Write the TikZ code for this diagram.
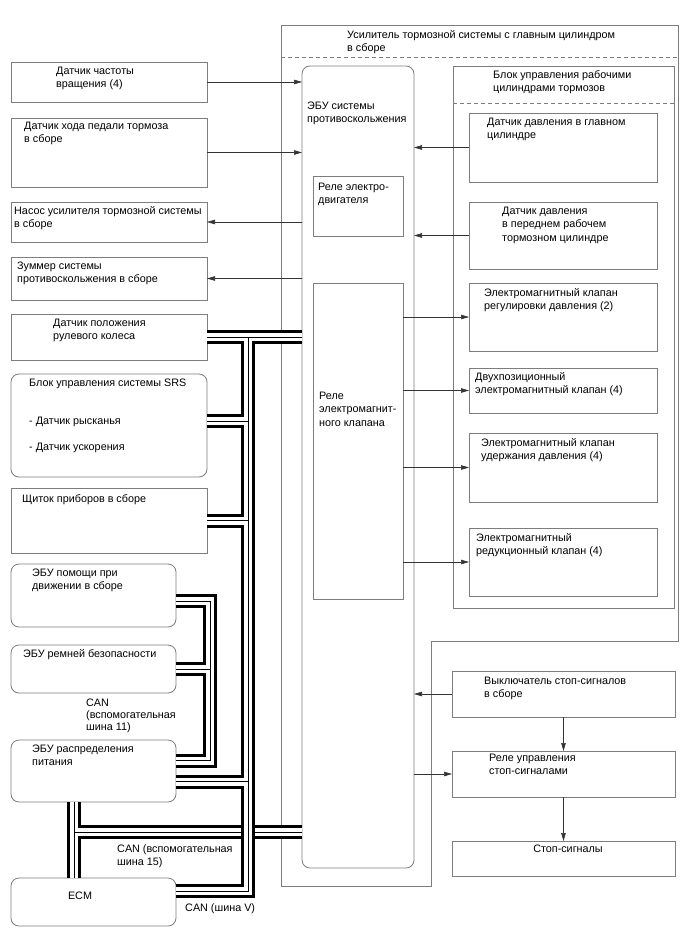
\documentclass[tikz,border=0pt]{standalone}
\usepackage{fontspec}
\setmainfont{Liberation Sans}
\usepackage{tikz}
\usetikzlibrary{arrows.meta}
\definecolor{linegray}{RGB}{125,125,125}

\tikzset{
  box/.style={draw=linegray, line width=0.8pt, rectangle, anchor=north west,
    inner sep=0pt, outer sep=0pt},
  rbox/.style={box, rounded corners=8pt},
  txt/.style={anchor=north west, inner sep=0pt, align=left,
    font=\fontsize{10.8}{13.2}\selectfont},
  arr/.style={draw=black!80, line width=0.6pt, -{Triangle[length=8pt,width=4.5pt]}},
  dashline/.style={draw=linegray, line width=0.8pt, dash pattern=on 4pt off 3pt},
}

\begin{document}
\begin{tikzpicture}[x=1pt,y=-1pt]
  \useasboundingbox (0,0) rectangle (688,949);

  % brake booster with master cylinder
  \draw[linegray, line width=0.8pt] (281,25) -- (678,25) -- (678,641) -- (431,641)
    -- (431,886) -- (281,886) -- cycle;
  \draw[dashline] (281,57) -- (678,57);
  \node[txt] (boostert) at (347,30) {Усилитель тормозной системы с главным цилиндром\\в сборе};

  % skid control ECU
  \node[rbox, minimum width=112, minimum height=802] (ecu) at (302,66) {};
  \node[txt] (ecut) at (307,102) {ЭБУ системы\\противоскольжения};
  \node[box, minimum width=90, minimum height=60] (mrelay) at (313,176) {};
  \node[txt] (mrelayt) at (318,183) {Реле электро-\\двигателя};
  \node[box, minimum width=90, minimum height=316] (vrelay) at (313,283) {};
  \node[txt] (vrelayt) at (319,392) {Реле\\электромагнит-\\ного клапана};

  % actuator block
  \node[box, minimum width=221, minimum height=542] (block) at (453,66) {};
  \draw[dashline] (453,103) -- (674,103);
  \node[txt] (blockt) at (493,70) {Блок управления рабочими\\цилиндрами тормозов};
  \node[box, minimum width=188, minimum height=69] (pmaster) at (469,113) {};
  \node[txt] (pmastert) at (487,118) {Датчик давления в главном\\цилиндре};
  \node[box, minimum width=188, minimum height=67] (pfront) at (469,202) {};
  \node[txt] (pfrontt) at (502,207) {Датчик давления\\в переднем рабочем\\тормозном цилиндре};
  \node[box, minimum width=188, minimum height=68] (vreg) at (469,283) {};
  \node[txt] (vregt) at (484,288) {Электромагнитный клапан\\регулировки давления (2)};
  \node[box, minimum width=188, minimum height=45] (vtwo) at (469,368) {};
  \node[txt] (vtwot) at (475,372) {Двухпозиционный\\электромагнитный клапан (4)};
  \node[box, minimum width=188, minimum height=69] (vhold) at (469,433) {};
  \node[txt] (vholdt) at (481,438) {Электромагнитный клапан\\удержания давления (4)};
  \node[box, minimum width=188, minimum height=68] (vred) at (469,528) {};
  \node[txt] (vredt) at (476,533) {Электромагнитный\\редукционный клапан (4)};

  % stop lamp circuit
  \node[box, minimum width=223, minimum height=46] (switch) at (452,671) {};
  \node[txt] (switcht) at (484,677) {Выключатель стоп-сигналов\\в сборе};
  \node[box, minimum width=223, minimum height=46] (srelay) at (452,751) {};
  \node[txt] (srelayt) at (489,754) {Реле управления\\стоп-сигналами};
  \node[box, minimum width=223, minimum height=35] (lamps) at (452,841) {};
  \node[txt, anchor=north] (lampst) at (568,845) {Стоп-сигналы};

  % left column
  \node[box, minimum width=196, minimum height=40] (speed) at (11,62) {};
  \node[txt] (speedt) at (56,67) {Датчик частоты\\вращения (4)};
  \node[box, minimum width=196, minimum height=69] (pedal) at (11,118) {};
  \node[txt] (pedalt) at (24,122) {Датчик хода педали тормоза\\в сборе};
  \node[box, minimum width=196, minimum height=40] (pump) at (11,202) {};
  \node[txt] (pumpt) at (14,206) {Насос усилителя тормозной системы\\в сборе};
  \node[box, minimum width=196, minimum height=43] (buzzer) at (11,257) {};
  \node[txt] (buzzert) at (17,262) {Зуммер системы\\противоскольжения в сборе};
  \node[box, minimum width=196, minimum height=46] (steer) at (11,314) {};
  \node[txt] (steert) at (53,319) {Датчик положения\\рулевого колеса};
  \node[rbox, minimum width=196, minimum height=103] (srs) at (11,374) {};
  \node[txt] (srst) at (29,379) {Блок управления системы SRS\\[24.5pt] - Датчик рысканья\\[12.5pt] - Датчик ускорения};
  \node[box, minimum width=196, minimum height=65] (cluster) at (11,488) {};
  \node[txt] (clustert) at (22,494) {Щиток приборов в сборе};
  \node[rbox, minimum width=165, minimum height=63] (assist) at (11,564) {};
  \node[txt] (assistt) at (32,569) {ЭБУ помощи при\\движении в сборе};
  \node[rbox, minimum width=165, minimum height=48] (belt) at (11,645) {};
  \node[txt] (beltt) at (23,649) {ЭБУ ремней безопасности};
  \node[rbox, minimum width=165, minimum height=62] (power) at (11,740) {};
  \node[txt] (powert) at (32,745) {ЭБУ распределения\\питания};
  \node[rbox, minimum width=165, minimum height=48] (ecm) at (11,878) {};
  \node[txt, anchor=north] (ecmt) at (80,892) {ECM};

  % bus labels
  \node[txt, font=\fontsize{10.8}{12}\selectfont] (can11) at (86,699) {CAN\\(вспомогательная\\шина 11)};
  \node[txt] (can15) at (117,844) {CAN (вспомогательная\\шина 15)};
  \node[txt] (canv) at (185,903) {CAN (шина V)};

  % signal lines
  \draw[arr] (speed.east) -- (speed.east -| ecu.west);
  \draw[arr] (pedal.east) -- (pedal.east -| ecu.west);
  \draw[arr] (pump.east -| ecu.west) -- (pump.east);
  \draw[arr] (buzzer.east -| ecu.west) -- (buzzer.east);
  \draw[arr] (pmaster.west) -- (pmaster.west -| ecu.east);
  \draw[arr] (pfront.west) -- (pfront.west -| ecu.east);
  \foreach \v in {vreg,vtwo,vhold,vred}
    \draw[arr] (\v.west -| vrelay.east) -- (\v.west);
  \draw[arr] (switch.west) -- (switch.west -| ecu.east);
  \draw[arr] (srelay.west -| ecu.east) -- (srelay.west);
  \draw[arr] (switch.south) -- (srelay.north);
  \draw[arr] (srelay.south) -- (lamps.north);

  % CAN buses
  \coordinate (tV) at (248,336);
  \coordinate (t11) at (210,601);
  \coordinate (bus15) at (74,832);
  \coordinate (srsV) at ([yshift=4.5]srs.east);
  \coordinate (assist11) at ([yshift=-5.5]assist.east);
  \coordinate (power11) at ([yshift=10.5]power.east);
  \coordinate (powerV) at ([yshift=-10.5]power.east);
  \coordinate (ecmV) at ([yshift=11]ecm.east);
  \coordinate (power15) at ([xshift=-19.5]power.south);
  \coordinate (ecm15) at ([xshift=-19.5]ecm.north);

  \foreach \w/\c in {14/black,8/white,1/black}
    \draw[line width=\w pt,\c] (power15) -- (ecm15) (bus15) -- (bus15 -| ecu.west);
  \foreach \w/\c in {14/black,8/white,1/black}
    \draw[line width=\w pt,\c] (assist11) -- (assist11 -| t11) -- (power11 -| t11) -- (power11)
      (belt.east) -- (belt.east -| t11);
  \foreach \w/\c in {14/black,8/white,1/black}
    \draw[line width=\w pt,\c] (steer.east) -- (steer.east -| ecu.west)
      (steer.east -| tV) -- (ecmV -| tV) -- (ecmV)
      (srsV) -- (srsV -| tV) (cluster.east) -- (cluster.east -| tV)
      (powerV) -- (powerV -| tV);
\end{tikzpicture}
\end{document}
